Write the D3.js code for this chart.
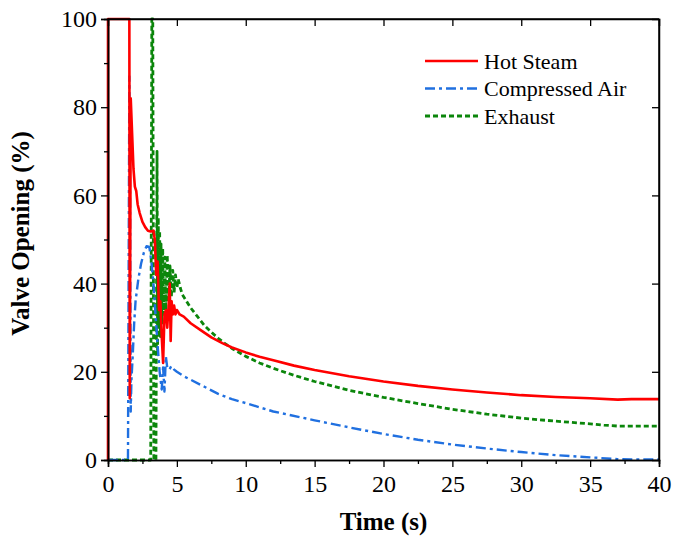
<!DOCTYPE html>
<html>
<head>
<meta charset="utf-8">
<script src="https://cdn.jsdelivr.net/npm/d3@7"></script>
<style>
  body { margin: 0; background: #fff; }
  svg text { font-family: "Liberation Serif", "Times New Roman", serif; fill: #000; }
</style>
</head>
<body>
<svg width="673" height="538"></svg>
<script>
// data, [time s, opening %]
const hotSteam = [
  [0,0],[0,100],[1.55,100],[1.58,14],[1.65,82],[1.75,74],[1.85,66],[1.95,62],[2.05,61],[2.15,58],
  [2.3,56],[2.5,54],[2.7,52.8],[2.9,52],[3.1,51.8],[3.3,52],[3.4,50],[3.5,42],[3.6,45],[3.7,34],
  [3.8,36],[3.9,28],[4.0,22],[4.1,33],[4.2,34],[4.3,30],[4.4,35],[4.48,40],[4.55,27],[4.62,36],
  [4.7,33],[4.8,35],[4.9,33],[5.0,34],[5.2,33],[5.5,32.5],[6,31],[6.7,29.5],[7.5,27.8],[8.3,26.5],
  [9,25.5],[10,24.4],[11,23.4],[12,22.6],[13.5,21.4],[15,20.4],[17.5,19],[20,17.8],[22.5,16.8],
  [25,16],[27.5,15.3],[30,14.7],[32.5,14.3],[35,14],[37,13.7],[38,13.8],[40,13.8]
];
const compressedAir = [
  [0,0],[1.45,0],[1.55,87],[1.6,60],[1.65,11],[1.7,18],[1.8,24],[1.9,31],[2.0,36],[2.2,41],
  [2.4,44.5],[2.6,47],[2.8,48.5],[3.0,48.3],[3.15,45],[3.3,40],[3.45,33],[3.6,26],[3.75,20],
  [3.9,16],[4.0,21],[4.1,15.5],[4.2,23.5],[4.3,21],[4.45,20.5],[4.6,21.3],[4.8,20.5],[5.0,20],
  [5.5,19],[6,18.2],[7,16.6],[8,15],[9,13.8],[10,12.9],[12,11],[15,9],[17.5,7.4],[20,5.9],
  [22.5,4.6],[25,3.5],[27.5,2.6],[30,1.8],[32.5,1.1],[35,0.6],[37,0.2],[38,0.1],[40,0.1]
];
const exhaust = [
  [0,0],[3.1,0],[3.18,100],[3.25,100],[3.33,0],[3.48,0],[3.56,70],[3.6,25],[3.65,55],[3.7,30],
  [3.75,52],[3.8,28],[3.85,49],[3.9,31],[3.97,48],[4.05,33],[4.12,46],[4.2,34],[4.3,46.5],
  [4.4,36],[4.5,44],[4.6,37],[4.7,43],[4.8,38],[4.9,42],[5.0,39],[5.1,41],[5.25,39],[5.4,37.5],
  [5.7,36],[6,34.5],[6.5,32.5],[7,30.5],[7.5,29],[8,27.6],[8.5,26.4],[9,25.3],[10,23.5],
  [11,22],[12,20.8],[13.5,19.2],[15,17.8],[17.5,15.8],[20,14.2],[22.5,12.8],[25,11.5],
  [27.5,10.4],[30,9.5],[32.5,8.8],[35,8.2],[36,7.9],[37,7.7],[40,7.7]
];
const xTicks = [0, 5, 10, 15, 20, 25, 30, 35, 40];
const yTicks = [0, 20, 40, 60, 80, 100];
const seriesNames = ["Hot Steam", "Compressed Air", "Exhaust"];

const serif = '"Liberation Serif", "Times New Roman", serif';

const svg = d3.select("svg").attr("font-family", serif);
const margin = {top: 19, right: 14, bottom: 78, left: 108};
const width = 673, height = 538;
const innerWidth = width - margin.left - margin.right;
const innerHeight = height - margin.top - margin.bottom;

const g = svg.append("g").attr("transform", `translate(${margin.left},${margin.top})`);

const x = d3.scaleLinear().domain([0, 40]).range([0, innerWidth]);
const y = d3.scaleLinear().domain([0, 100]).range([innerHeight, 0]);

// styles per series
const styles = [
  {data: hotSteam, color: "#ff0000", dash: null, w: 2.6},
  {data: compressedAir, color: "#2070e0", dash: "10,4,3,4", w: 2.4},
  {data: exhaust, color: "#0b860b", dash: "5,3", w: 2.8}
];

// minor ticks (bottom / left, outward)
const xMinor = d3.range(2.5, 40, 5);
const yMinor = d3.range(10, 100, 20);

g.append("defs").append("clipPath").attr("id", "clip")
  .append("rect").attr("x", -2).attr("y", -2).attr("width", innerWidth + 4).attr("height", innerHeight + 4);

const line = d3.line().x(d => x(d[0])).y(d => y(d[1]));

// draw green, blue, then red on top
[2, 1, 0].forEach(i => {
  const s = styles[i];
  g.append("path")
    .datum(s.data)
    .attr("clip-path", "url(#clip)")
    .attr("fill", "none")
    .attr("stroke", s.color)
    .attr("stroke-width", s.w)
    .attr("stroke-dasharray", s.dash)
    .attr("stroke-linejoin", "round")
    .attr("d", line);
});

// axes
const xAxis = d3.axisBottom(x).tickValues(xTicks).tickSize(7).tickPadding(8).tickFormat(d3.format("d"));
const yAxis = d3.axisLeft(y).tickValues(yTicks).tickSize(7).tickPadding(4).tickFormat(d3.format("d"));

g.append("g").attr("transform", `translate(0,${innerHeight})`).call(xAxis);
g.append("g").call(yAxis);

const noText = sel => sel.selectAll("text").remove();
g.append("g").attr("transform", `translate(0,${innerHeight})`)
  .call(d3.axisBottom(x).tickValues(xMinor).tickSize(4)).call(noText);
g.append("g").call(d3.axisLeft(y).tickValues(yMinor).tickSize(4)).call(noText);
// top and right: inward major ticks
g.append("g").call(d3.axisBottom(x).tickValues(xTicks.slice(1, -1)).tickSize(7)).call(noText);
g.append("g").attr("transform", `translate(${innerWidth},0)`)
  .call(d3.axisLeft(y).tickValues(yTicks.slice(1, -1)).tickSize(7)).call(noText);

g.selectAll("g").attr("font-family", serif);
g.selectAll(".domain").attr("stroke", "#000").attr("stroke-width", 1.5);
g.selectAll(".tick line").attr("stroke", "#000").attr("stroke-width", 1.3);
g.selectAll(".tick text")
  .style("font-family", serif)
  .style("font-size", "24px")
  .attr("fill", "#000");

// frame top & right
g.append("line").attr("x1", 0).attr("x2", innerWidth).attr("y1", 0).attr("y2", 0)
  .attr("stroke", "#000").attr("stroke-width", 1.5);
g.append("line").attr("x1", innerWidth).attr("x2", innerWidth).attr("y1", 0).attr("y2", innerHeight)
  .attr("stroke", "#000").attr("stroke-width", 1.5);

// axis labels
g.append("text")
  .attr("x", innerWidth / 2)
  .attr("y", innerHeight + 70)
  .attr("text-anchor", "middle")
  .style("font-family", serif)
  .style("font-size", "25px").style("font-weight", "bold")
  .text("Time (s)");

g.append("text")
  .attr("transform", "rotate(-90)")
  .attr("x", -innerHeight / 2 + 6)
  .attr("y", -79)
  .attr("text-anchor", "middle")
  .style("font-family", serif)
  .style("font-size", "25px").style("font-weight", "bold")
  .text("Valve Opening (%)");

// legend
const legend = g.append("g").attr("transform", `translate(${425 - margin.left},${61 - margin.top})`);
seriesNames.forEach((name, i) => {
  const s = styles[i];
  const row = legend.append("g").attr("transform", `translate(0,${i * 27.5})`);
  row.append("line")
    .attr("x1", 0).attr("x2", 53).attr("y1", 0).attr("y2", 0)
    .attr("stroke", s.color).attr("stroke-width", s.w)
    .attr("stroke-dasharray", s.dash);
  row.append("text")
    .attr("x", 59).attr("y", 7.5)
    .style("font-family", serif)
    .style("font-size", "22px")
    .text(name);
});
</script>
</body>
</html>
